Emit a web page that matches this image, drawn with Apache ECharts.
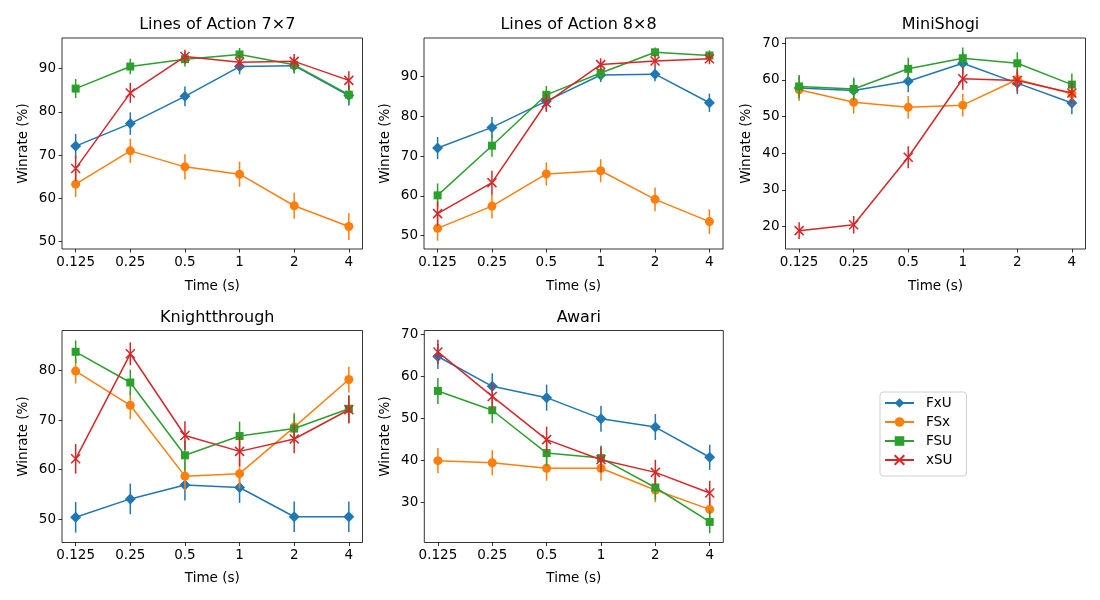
<!DOCTYPE html>
<html>
<head>
<meta charset="utf-8">
<script src="https://cdn.jsdelivr.net/npm/echarts@6/dist/echarts.min.js"></script>
<style>html,body{margin:0;padding:0;background:#fff}#c{width:1100px;height:600px}</style>
</head>
<body>
<div id="c"></div>
<script>
// ---- data ----
const timeLabels = ['0.125', '0.25', '0.5', '1', '2', '4'];
const methods = ['FxU', 'FSx', 'FSU', 'xSU'];
const panelTitles = ['Lines of Action 7×7', 'Lines of Action 8×8', 'MiniShogi', 'Knightthrough', 'Awari'];

// Lines of Action 7x7
const loa7_FxU = [72.1, 77.3, 83.6, 90.5, 90.7, 83.8];
const loa7_FSx = [63.3, 71.0, 67.3, 65.6, 58.3, 53.5];
const loa7_FSU = [85.4, 90.5, 92.2, 93.3, 90.9, 84.0];
const loa7_xSU = [66.9, 84.4, 92.8, 91.5, 91.7, 87.3];
const loa7_FxU_err = [2.8, 2.6, 2.3, 1.8, 1.8, 2.3];
const loa7_FSx_err = [3.0, 2.8, 2.9, 2.9, 3.0, 3.1];
const loa7_FSU_err = [2.2, 1.8, 1.7, 1.5, 1.8, 2.3];
const loa7_xSU_err = [2.9, 2.3, 1.6, 1.7, 1.7, 2.1];

// Lines of Action 8x8
const loa8_FxU = [72.0, 77.2, 83.8, 90.4, 90.6, 83.4];
const loa8_FSx = [51.8, 57.4, 65.5, 66.3, 59.1, 53.5];
const loa8_FSU = [60.1, 72.6, 85.4, 90.9, 96.1, 95.3];
const loa8_xSU = [55.5, 63.3, 83.4, 93.0, 93.9, 94.5];
const loa8_FxU_err = [2.8, 2.6, 2.3, 1.8, 1.8, 2.3];
const loa8_FSx_err = [3.1, 3.1, 2.9, 2.9, 3.0, 3.1];
const loa8_FSU_err = [3.0, 2.8, 2.2, 1.8, 1.2, 1.3];
const loa8_xSU_err = [3.1, 3.0, 2.3, 1.6, 1.5, 1.4];

// MiniShogi
const shogi_FxU = [57.8, 57.1, 59.6, 64.5, 59.1, 53.7];
const shogi_FSx = [57.3, 53.9, 52.5, 53.1, 60.1, 56.2];
const shogi_FSU = [58.2, 57.5, 63.0, 65.9, 64.5, 58.7];
const shogi_xSU = [18.9, 20.5, 38.9, 60.3, 59.8, 56.4];
const shogi_FxU_err = [3.1, 3.1, 3.0, 3.0, 3.0, 3.1];
const shogi_FSx_err = [3.1, 3.1, 3.1, 3.1, 3.0, 3.1];
const shogi_FSU_err = [3.1, 3.1, 3.0, 2.9, 3.0, 3.0];
const shogi_xSU_err = [2.3, 2.4, 3.0, 3.0, 3.0, 3.1];

// Knightthrough
const knight_FxU = [50.4, 54.1, 56.9, 56.4, 50.5, 50.5];
const knight_FSx = [79.9, 73.0, 58.7, 59.2, 68.6, 78.2];
const knight_FSU = [83.8, 77.6, 62.9, 66.8, 68.3, 72.3];
const knight_xSU = [62.2, 83.4, 66.9, 63.7, 66.2, 72.1];
const knight_FxU_err = [3.1, 3.1, 3.1, 3.1, 3.1, 3.1];
const knight_FSx_err = [2.5, 2.8, 3.0, 3.0, 2.9, 2.6];
const knight_FSU_err = [2.3, 2.6, 3.0, 2.9, 2.9, 2.8];
const knight_xSU_err = [3.0, 2.3, 2.9, 3.0, 2.9, 2.8];

// Awari
const awari_FxU = [64.7, 57.6, 54.9, 49.9, 47.9, 40.7];
const awari_FSx = [39.9, 39.4, 38.1, 38.1, 32.9, 28.3];
const awari_FSU = [56.5, 51.9, 41.7, 40.5, 33.5, 25.3];
const awari_xSU = [65.8, 55.2, 44.9, 40.1, 37.1, 32.2];
const awari_FxU_err = [3.0, 3.1, 3.1, 3.1, 3.1, 3.0];
const awari_FSx_err = [3.0, 3.0, 3.0, 3.0, 2.9, 2.8];
const awari_FSU_err = [3.1, 3.1, 3.0, 3.0, 2.9, 2.7];
const awari_xSU_err = [2.9, 3.1, 3.1, 3.0, 3.0, 2.9];

const yTicks = [[50, 60, 70, 80, 90], [50, 60, 70, 80, 90], [20, 30, 40, 50, 60, 70], [50, 60, 70, 80], [30, 40, 50, 60, 70]];
// ---- end data ----

const panelData = [
  [[loa7_FxU, loa7_FxU_err], [loa7_FSx, loa7_FSx_err], [loa7_FSU, loa7_FSU_err], [loa7_xSU, loa7_xSU_err]],
  [[loa8_FxU, loa8_FxU_err], [loa8_FSx, loa8_FSx_err], [loa8_FSU, loa8_FSU_err], [loa8_xSU, loa8_xSU_err]],
  [[shogi_FxU, shogi_FxU_err], [shogi_FSx, shogi_FSx_err], [shogi_FSU, shogi_FSU_err], [shogi_xSU, shogi_xSU_err]],
  [[knight_FxU, knight_FxU_err], [knight_FSx, knight_FSx_err], [knight_FSU, knight_FSU_err], [knight_xSU, knight_xSU_err]],
  [[awari_FxU, awari_FxU_err], [awari_FSx, awari_FSx_err], [awari_FSU, awari_FSU_err], [awari_xSU, awari_xSU_err]]
];
const yLimits = [[48.3, 97.1], [46.6, 99.7], [13.9, 71.4], [45.3, 88.1], [20.4, 70.9]];

const colors = ['#1f77b4', '#ff7f0e', '#2ca02c', '#d62728'];
const symbols = ['diamond', 'circle', 'rect', 'path://M0,0L10,10M10,0L0,10'];
const symbolSizes = [11, 9, 8, 9];

const grids = [
  {left: 62, top: 38, width: 300.5, height: 211},
  {left: 424, top: 38, width: 299, height: 211},
  {left: 785.5, top: 38, width: 300, height: 211},
  {left: 62, top: 330.5, width: 300.5, height: 212},
  {left: 424.3, top: 330.5, width: 299, height: 212}
];

const FONT = 'DejaVu Sans';
const xIdx = timeLabels.map((_, i) => i);

const option = {
  animation: false,
  backgroundColor: '#fff',
  textStyle: {fontFamily: FONT},
  title: panelTitles.map((t, i) => ({
    text: t,
    left: grids[i].left + grids[i].width / 2,
    top: grids[i].top - 26,
    textAlign: 'center',
    textStyle: {fontFamily: FONT, fontSize: 16, fontWeight: 'normal', color: '#000'}
  })),
  legend: {
    data: methods,
    orient: 'vertical',
    left: 880,
    top: 392,
    itemWidth: 29,
    itemHeight: 12,
    itemGap: 5,
    padding: [4, 14, 9, 4],
    borderColor: '#d0d0d0',
    borderWidth: 1,
    borderRadius: 3,
    backgroundColor: '#fff',
    textStyle: {fontFamily: FONT, fontSize: 13.5, color: '#000', padding: [0, 0, 0, 7]}
  },
  grid: grids.map(g => Object.assign({show: true, borderColor: '#000', borderWidth: 0.8, backgroundColor: '#fff'}, g)),
  xAxis: grids.map((g, i) => ({
    gridIndex: i,
    type: 'value',
    min: -0.25,
    max: 5.25,
    name: 'Time (s)',
    nameLocation: 'middle',
    nameGap: i < 3 ? 30 : 29,
    nameTextStyle: {fontFamily: FONT, fontSize: 13.5, color: '#000'},
    axisLine: {show: false, onZero: false},
    splitLine: {show: false},
    axisTick: {show: true, length: 3.5, customValues: xIdx, lineStyle: {color: '#000', width: 0.8}},
    axisLabel: {
      customValues: xIdx, margin: 6,
      formatter: v => timeLabels[Math.round(v)],
      fontFamily: FONT, fontSize: 13.5, color: '#000'
    }
  })),
  yAxis: grids.map((g, i) => ({
    gridIndex: i,
    type: 'value',
    min: yLimits[i][0],
    max: yLimits[i][1],
    name: 'Winrate (%)',
    nameLocation: 'middle',
    nameGap: 32,
    nameRotate: 90,
    nameTextStyle: {fontFamily: FONT, fontSize: 13.5, color: '#000'},
    axisLine: {show: false, onZero: false},
    splitLine: {show: false},
    axisTick: {show: true, length: 3.5, customValues: yTicks[i], lineStyle: {color: '#000', width: 0.8}},
    axisLabel: {customValues: yTicks[i], margin: 6, fontFamily: FONT, fontSize: 13.5, color: '#000'}
  })),
  series: []
};

panelData.forEach((panel, p) => {
  panel.forEach(([vals, errs], m) => {
    option.series.push({
      type: 'custom',
      name: methods[m] + '_err',
      xAxisIndex: p, yAxisIndex: p,
      z: 2 + m * 2,
      silent: true,
      data: vals.map((v, i) => [i, v, errs[i]]),
      encode: {x: 0, y: 1},
      renderItem: (params, api) => {
        const x = api.value(0), y = api.value(1), e = api.value(2);
        const a = api.coord([x, y - e]), b = api.coord([x, y + e]);
        return {type: 'line', shape: {x1: a[0], y1: a[1], x2: b[0], y2: b[1]},
                style: {stroke: colors[m], lineWidth: 1.5}};
      }
    });
    option.series.push({
      type: 'line',
      name: methods[m],
      xAxisIndex: p, yAxisIndex: p,
      z: 3 + m * 2,
      data: vals.map((v, i) => [i, v]),
      symbol: symbols[m],
      symbolSize: symbolSizes[m],
      showSymbol: true,
      showAllSymbol: true,
      color: colors[m],
      lineStyle: {color: colors[m], width: 1.5},
      itemStyle: m === 3 ? {color: colors[m], borderColor: colors[m], borderWidth: 1.5} : {color: colors[m], borderWidth: 0},
      emphasis: {disabled: true}
    });
  });
});

const chart = echarts.init(document.getElementById('c'));
chart.setOption(option);
</script>
</body>
</html>
